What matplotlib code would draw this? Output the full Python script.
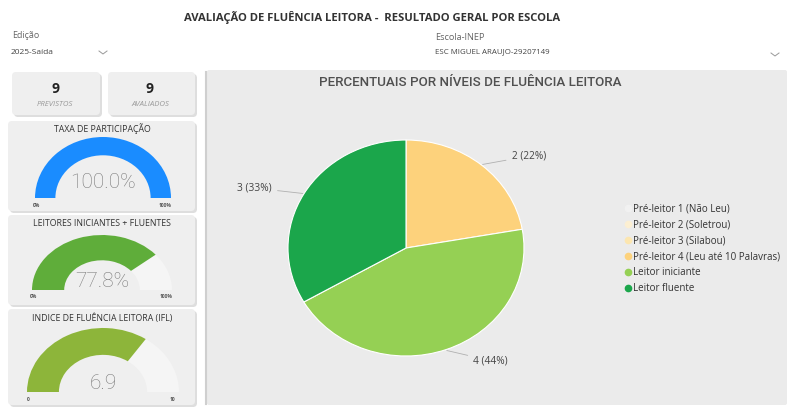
import numpy as np
import matplotlib
matplotlib.use("Agg")
import matplotlib.pyplot as plt
from matplotlib.patches import FancyBboxPatch, Wedge
from matplotlib.lines import Line2D

plt.rcParams['font.family'] = ['Open Sans', 'DejaVu Sans']

# ---- data ----
niveis = ["Pré-leitor 1 (Não Leu)", "Pré-leitor 2 (Soletrou)", "Pré-leitor 3 (Silabou)",
          "Pré-leitor 4 (Leu até 10 Palavras)", "Leitor iniciante", "Leitor fluente"]
alunos = [0, 0, 0, 2, 4, 3]
cores = ["#f1f1f1", "#fcefd2", "#fce6b0", "#fdd27c", "#95d054", "#1ba64b"]

previstos = 9
avaliados = 9
taxa_participacao = 100.0
iniciantes_fluentes = 77.8
ifl = 6.9
ifl_max = 10

W, H = 787, 407
fig = plt.figure(figsize=(W / 100, H / 100), dpi=100)
fig.patch.set_facecolor("white")


def box(x, y, w, h):
    return [x / W, 1 - (y + h) / H, w / W, h / H]


bg = fig.add_axes([0, 0, 1, 1])
bg.set_xlim(0, W)
bg.set_ylim(H, 0)
bg.axis("off")


def card(x, y, w, h, fc="#efefef"):
    sh = FancyBboxPatch((x + 2, y + 2), w, h, boxstyle="round,pad=0,rounding_size=4",
                        fc="#c8c8c8", ec="none", alpha=0.6)
    bg.add_patch(sh)
    bg.add_patch(FancyBboxPatch((x, y), w, h, boxstyle="round,pad=0,rounding_size=4",
                                fc=fc, ec="none"))


# header and selectors
bg.text(372, 17, "AVALIAÇÃO DE FLUÊNCIA LEITORA -  RESULTADO GERAL POR ESCOLA",
        ha="center", va="center", fontsize=8.1, fontweight="bold", color="#333333")
bg.text(12, 36, "Edição", fontsize=6.4, color="#666666", va="center")
bg.text(11, 52, "2025-Saída", fontsize=6.0, color="#444444", va="center")
bg.plot([99, 103, 107], [51, 54, 51], color="#999999", lw=0.7)
bg.text(435, 38, "Escola-INEP", fontsize=6.6, color="#666666", va="center")
bg.text(435, 52, "ESC MIGUEL ARAUJO-29207149", fontsize=5.7, color="#444444", va="center")
bg.plot([771, 775, 779], [53, 56, 53], color="#999999", lw=0.7)

# main panel
bg.add_patch(FancyBboxPatch((207, 70), 580, 335, boxstyle="round,pad=0,rounding_size=2",
                            fc="#ebebeb", ec="none"))
bg.plot([206, 206], [72, 404], color="#cfcfcf", lw=1.5)

# left cards
card(12, 72, 88, 43)
card(108, 72, 87, 43)
bg.text(55, 89, str(previstos), ha="center", va="center", fontsize=10, fontweight="bold", color="#222222")
bg.text(55, 104, "PREVISTOS", ha="center", va="center", fontsize=5.6, style="italic", color="#999999")
bg.text(150, 89, str(avaliados), ha="center", va="center", fontsize=10, fontweight="bold", color="#222222")
bg.text(150, 104, "AVALIADOS", ha="center", va="center", fontsize=5.6, style="italic", color="#999999")

card(8, 121, 187, 90)
card(8, 215, 187, 90)
card(8, 309, 187, 96)
bg.text(102, 129, "TAXA DE PARTICIPAÇÃO", ha="center", va="center", fontsize=6.3, color="#333333")
bg.text(102, 224, "LEITORES INICIANTES + FLUENTES", ha="center", va="center", fontsize=6.3, color="#333333")
bg.text(102, 318, "INDICE DE FLUÊNCIA LEITORA (IFL)", ha="center", va="center", fontsize=6.3, color="#333333")


def gauge(cx, cy, rx, ry, frac, width, color, label, lo, hi, ly):
    ax = fig.add_axes(box(cx - 1.2 * rx, cy - 1.15 * ry, 2.4 * rx, 1.5 * ry))
    ax.set_xlim(-1.2, 1.2)
    ax.set_ylim(-0.35, 1.15)
    ax.axis("off")
    ax.add_patch(Wedge((0, 0), 1, 0, 180, width=width, fc="#f5f5f5", ec="none"))
    ax.add_patch(Wedge((0, 0), 1, 180 - 180 * frac, 180, width=width, fc=color, ec="none"))
    ax.text(0, ly, label, ha="center", va="center", fontsize=15, color="#7a7a7a",
            family=["Roboto", "DejaVu Sans"], fontweight="light")
    ax.text(-0.98, -0.12, lo, ha="center", va="center", fontsize=3.6, fontweight="bold", color="#555555")
    ax.text(0.92, -0.12, hi, ha="center", va="center", fontsize=3.6, fontweight="bold", color="#555555")


gauge(103, 198, 68, 61, taxa_participacao / 100, 0.3, "#1a8cff",
      f"{taxa_participacao:.1f}%", "0%", "100%", 0.25)
gauge(102, 290, 70, 55, iniciantes_fluentes / 100, 0.46, "#5fad3a",
      f"{iniciantes_fluentes:.1f}%", "0%", "100%", 0.15)
gauge(103, 392, 76, 64, ifl / ifl_max, 0.42, "#8db53a",
      f"{ifl:.1f}", "0", str(ifl_max), 0.14)

# pie chart
bg.text(470, 83, "PERCENTUAIS POR NÍVEIS DE FLUÊNCIA LEITORA", ha="center", va="center",
        fontsize=9.6, color="#505050", family=["Roboto", "DejaVu Sans"], fontweight="medium")

pcx, pcy, prx, pry = 406, 248, 118, 108
ax0, ay0, aw, ah = 215, 100, 400, 300
ax = fig.add_axes(box(ax0, ay0, aw, ah))
wedges, _ = ax.pie(alunos, colors=cores, startangle=90, counterclock=False,
                   wedgeprops=dict(edgecolor="white", linewidth=0.8))
ax.set_aspect("auto")
ax.set_xlim(-(pcx - ax0) / prx, (ax0 + aw - pcx) / prx)
ax.set_ylim(-(ay0 + ah - pcy) / pry, (pcy - ay0) / pry)
ax.axis("off")

total = sum(alunos)
for w, n in zip(wedges, alunos):
    if n == 0:
        continue
    ang = np.deg2rad((w.theta1 + w.theta2) / 2)
    x, y = np.cos(ang), np.sin(ang)
    side = 1 if x > 0 else -1
    ax.annotate(f"{n} ({n / total * 100:.0f}%)", xy=(x * 1.01, y * 1.01),
                xytext=(x * 1.08 + side * 0.2, y * 1.11),
                ha="left" if side > 0 else "right", va="center",
                fontsize=7.3, color="#444444",
                arrowprops=dict(arrowstyle="-", color="#b0b0b0", lw=0.6,
                                shrinkA=2, shrinkB=0))

handles = [Line2D([], [], marker="o", ls="none", color=c, markersize=4.5) for c in cores]
fig.legend(handles, niveis, loc="upper left", bbox_to_anchor=(619 / W, 1 - 200 / H),
           frameon=False, fontsize=7.0, handletextpad=0.05, labelspacing=0.5,
           handlelength=1.0, borderaxespad=0, labelcolor="#333333")

fig.savefig("out.png", dpi=100, facecolor="white")
